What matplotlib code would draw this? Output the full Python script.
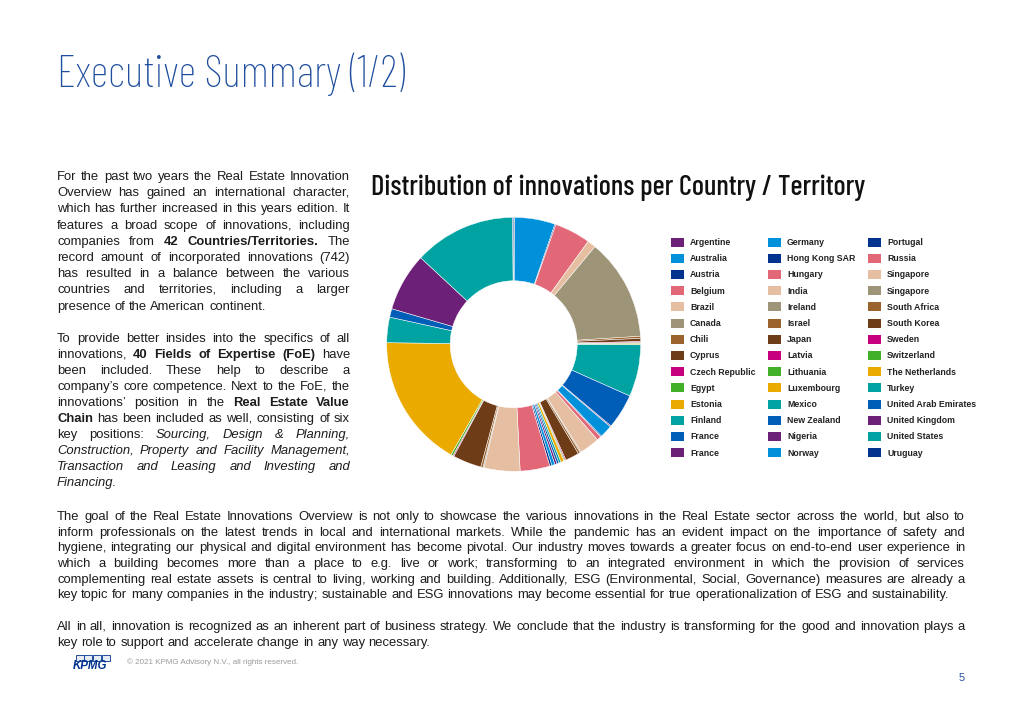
import matplotlib
matplotlib.use("Agg")
import matplotlib.pyplot as plt
from matplotlib import font_manager as fm
from matplotlib.patches import Rectangle

# ---------------- data ----------------
countries = ["Argentine", "Australia", "Austria", "Belgium", "Brazil", "Canada", "Chili",
             "Cyprus", "Czech Republic", "Egypt", "Estonia", "Finland", "France", "France",
             "Germany", "Hong Kong SAR", "Hungary", "India", "Ireland", "Israel", "Japan",
             "Latvia", "Lithuania", "Luxembourg", "Mexico", "New Zealand", "Nigeria", "Norway",
             "Portugal", "Russia", "Singapore", "Singapore", "South Africa", "South Korea",
             "Sweden", "Switzerland", "The Netherlands", "Turkey", "United Arab Emirates",
             "United Kingdom", "United States", "Uruguay"]
innovations = [1, 38, 1, 34, 8, 96, 2,
               3, 1, 1, 1, 49, 33, 1,
               12, 1, 4, 19, 1, 2, 13,
               1, 1, 3, 2, 2, 2, 3,
               2, 28, 34, 1, 2, 27,
               1, 2, 126, 24, 8,
               55, 96, 1]

PURPLE, LBLUE, DBLUE, PINK = "#6D2077", "#0091DA", "#00338D", "#E36877"
TAN, GREY, BROWN, DBROWN = "#E6BEA2", "#9E9478", "#9B642E", "#6F3C18"
MAGENTA, GREEN, YELLOW, TEAL, BLUE = "#C6007E", "#43B02A", "#EAAA00", "#00A3A1", "#005EB8"
colors = [PURPLE, LBLUE, DBLUE, PINK, TAN, GREY, BROWN,
          DBROWN, MAGENTA, GREEN, YELLOW, TEAL, BLUE, PURPLE,
          LBLUE, DBLUE, PINK, TAN, GREY, BROWN, DBROWN,
          MAGENTA, GREEN, YELLOW, TEAL, BLUE, PURPLE, LBLUE,
          DBLUE, PINK, TAN, GREY, BROWN, DBROWN,
          MAGENTA, GREEN, YELLOW, TEAL, BLUE,
          PURPLE, TEAL, DBLUE]

page_title = "Executive Summary (1/2)"
chart_title = "Distribution of innovations per Country / Territory"

left_par1 = [
    [("For the past two years the Real Estate Innovation", "n")],
    [("Overview has gained an international character,", "n")],
    [("which has further increased in this years edition. It", "n")],
    [("features a broad scope of innovations, including", "n")],
    [("companies from", "n"), ("42 Countries/Territories.", "b"), ("The", "n")],
    [("record amount of incorporated innovations (742)", "n")],
    [("has resulted in a balance between the various", "n")],
    [("countries and territories, including a larger", "n")],
    [("presence of the American continent.", "n")],
]
left_par2 = [
    [("To provide better insides into the specifics of all", "n")],
    [("innovations,", "n"), ("40 Fields of Expertise (FoE)", "b"), ("have", "n")],
    [("been included. These help to describe a", "n")],
    [("company\u2019s core competence. Next to the FoE, the", "n")],
    [("innovations\u2019 position in the", "n"), ("Real Estate Value", "b")],
    [("Chain", "b"), ("has been included as well, consisting of six", "n")],
    [("key positions:", "n"), ("Sourcing, Design & Planning,", "i")],
    [("Construction, Property and Facility Management,", "i")],
    [("Transaction and Leasing and Investing and", "i")],
    [("Financing.", "i")],
]
bottom_par1 = [
    [("The goal of the Real Estate Innovations Overview is not only to showcase the various innovations in the Real Estate sector across the world, but also to", "n")],
    [("inform professionals on the latest trends in local and international markets. While the pandemic has an evident impact on the importance of safety and", "n")],
    [("hygiene, integrating our physical and digital environment has become pivotal. Our industry moves towards a greater focus on end-to-end user experience in", "n")],
    [("which a building becomes more than a place to e.g. live or work; transforming to an integrated environment in which the provision of services", "n")],
    [("complementing real estate assets is central to living, working and building. Additionally, ESG (Environmental, Social, Governance) measures are already a", "n")],
    [("key topic for many companies in the industry; sustainable and ESG innovations may become essential for true operationalization of ESG and sustainability.", "n")],
]
bottom_par2 = [
    [("All in all, innovation is recognized as an inherent part of business strategy. We conclude that the industry is transforming for the good and innovation plays a", "n")],
    [("key role to support and accelerate change in any way necessary.", "n")],
]
footer_text = "\u00a9 2021 KPMG Advisory N.V., all rights reserved."
page_number = "5"

# ---------------- fonts ----------------
BODY = ["Liberation Sans", "DejaVu Sans"]


def wnum(w):
    m = {"ultralight": 100, "thin": 100, "extra light": 200, "light": 300, "normal": 400,
         "regular": 400, "book": 400, "medium": 500, "semibold": 600, "demibold": 600,
         "bold": 700, "heavy": 800, "extra bold": 800, "black": 900}
    if isinstance(w, (int, float)):
        return w
    return m.get(str(w).lower(), 400)


def pick_font(families, weight):
    for fam in families:
        opts = [f for f in fm.fontManager.ttflist if f.name == fam and f.style == "normal"]
        if opts:
            best = min(opts, key=lambda f: abs(wnum(f.weight) - weight))
            return fm.FontProperties(fname=best.fname)
    return fm.FontProperties(family="Liberation Sans")


THIN = pick_font(["Barlow Condensed", "Asap Condensed", "Archivo Narrow", "DejaVu Sans"], 200)
REG = pick_font(["Barlow Condensed", "Asap Condensed", "Archivo Narrow", "DejaVu Sans"], 500)

W, H = 1023, 708
fig = plt.figure(figsize=(W / 100, H / 100), dpi=100, facecolor="white")
renderer = fig.canvas.get_renderer()


def P(x, y):
    return x / W, 1 - y / H


def width_of(t):
    return t.get_window_extent(renderer).width


def place(t, x, y):
    # whole-pixel baseline; the tiny bias keeps raster rounding identical for every word
    t.set_position(P(x, round(y) - 0.01))
    return t


def fit_text(x, y, s, fp, target_w, color, ha="left"):
    t = fig.text(0, 0, s, fontproperties=fp.copy(), color=color, va="baseline", ha=ha)
    t.set_fontsize(20)
    w = width_of(t)
    t.set_fontsize(20 * target_w / w)
    place(t, x, y)
    return t


# ---------------- titles ----------------
fit_text(57, 87, page_title, THIN, 347, "#1F4E9F")
fit_text(371, 195, chart_title, REG, 495, "#111111")

# ---------------- body text ----------------
TXT = "#1c1c1c"


def mk(s, style, size):
    return fig.text(0, 0, s, family=BODY, fontsize=size,
                    fontweight="bold" if style == "b" else "normal",
                    fontstyle="italic" if style == "i" else "normal",
                    color=TXT, va="baseline", ha="left")


def measure(s, style, size):
    t = mk(s, style, size)
    w = width_of(t)
    t.remove()
    return w


# calibrate size from the long final line of the bottom paragraph (natural width ~891px)
BS = 10 * 891 / measure(bottom_par1[-1][0][0], "n", 10)
SPACE = measure("a b", "n", BS) - measure("ab", "n", BS)


def paragraph(lines, x0, x1, y0, dy):
    for li, line in enumerate(lines):
        words = [(w, st) for seg, st in line for w in seg.split()]
        texts = [mk(w, st, BS) for w, st in words]
        widths = [width_of(t) for t in texts]
        last = li == len(lines) - 1
        if last or len(texts) == 1:
            gap = SPACE
        else:
            gap = (x1 - x0 - sum(widths)) / (len(texts) - 1)
        x = x0
        y = y0 + li * dy
        for t, w in zip(texts, widths):
            place(t, x, y)
            x += w + gap


paragraph(left_par1, 57, 350, 180, 16.2)
paragraph(left_par2, 57, 350, 342, 16.0)
paragraph(bottom_par1, 57, 965, 520, 15.7)
paragraph(bottom_par2, 57, 965, 630, 15.7)

# ---------------- donut ----------------
cx, cy, R = 513.7, 344.3, 127
ax = fig.add_axes([(cx - R) / W, 1 - (cy + R) / H, 2 * R / W, 2 * R / H])
ax.pie(innovations, colors=colors, startangle=90, counterclock=False, radius=1,
       wedgeprops=dict(width=0.5, edgecolor="white", linewidth=0.35))
ax.set_xlim(-1, 1)
ax.set_ylim(-1, 1)
ax.set_aspect("equal")
ax.axis("off")

# ---------------- legend ----------------
col_x = [671, 768, 868]
row_y0, row_dy = 242, 16.2
for k, (name, col) in enumerate(zip(countries, colors)):
    c, r = divmod(k, 14)
    x = col_x[c]
    y = row_y0 + r * row_dy
    fig.patches.append(Rectangle(P(x, y + 4.5), 13 / W, 9 / H, transform=fig.transFigure,
                                 facecolor=col, edgecolor="none"))
    t = fig.text(0, 0, name, family=BODY, fontweight="bold", fontsize=6.3,
                 color="#222222", va="baseline", ha="left")
    place(t, x + 19, y + 3)

# ---------------- footer ----------------
for i in range(4):
    fig.patches.append(Rectangle(P(75.5 + i * 8.8, 661), 8.0 / W, 6.5 / H,
                                 transform=fig.transFigure, facecolor="#E6ECF6",
                                 edgecolor="#00338D", linewidth=0.6))
t = fig.text(0, 0, "KPMG", family=BODY, fontweight="bold", fontstyle="italic",
             fontsize=8.3, color="#00338D", va="baseline", ha="left")
place(t, 73, 669)
fit_text(127, 664, footer_text, fm.FontProperties(family=BODY), 170, "#9a9a9a")
t = fig.text(0, 0, page_number, family=BODY, fontsize=7.8, color="#1F4E9F",
             va="baseline", ha="right")
place(t, 965, 681)

fig.savefig("out.png", dpi=100, facecolor="white")
